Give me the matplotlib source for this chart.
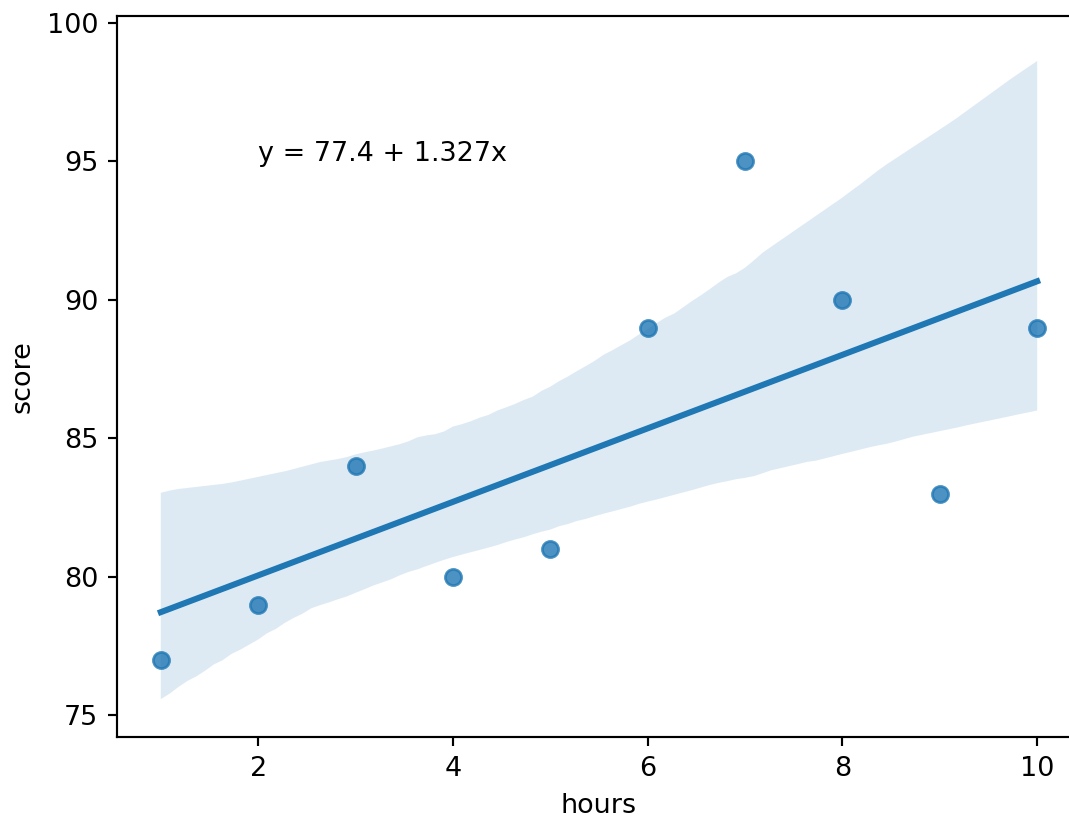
import matplotlib
matplotlib.use("Agg")
import matplotlib.pyplot as plt
import seaborn as sns
import pandas as pd

hours = [1, 2, 3, 4, 5, 6, 7, 8, 9, 10]
score = [77, 79, 84, 80, 81, 89, 95, 90, 83, 89]
equation = "y = 77.4 + 1.327x"

df = pd.DataFrame({"hours": hours, "score": score})

fig = plt.figure(figsize=(1069 / 194, 816 / 194), dpi=194)
ax = fig.add_axes([117 / 1069, 79 / 816, 964 / 1069, 720.7 / 816])

# regression plot with confidence band
sns.regplot(x="hours", y="score", data=df, ax=ax, seed=1)

ax.text(2, 95, equation)

ax.set_xlim(0.55, 10.45)
ax.set_ylim(74.22, 100.24)

fig.savefig("out.png", dpi=194)
